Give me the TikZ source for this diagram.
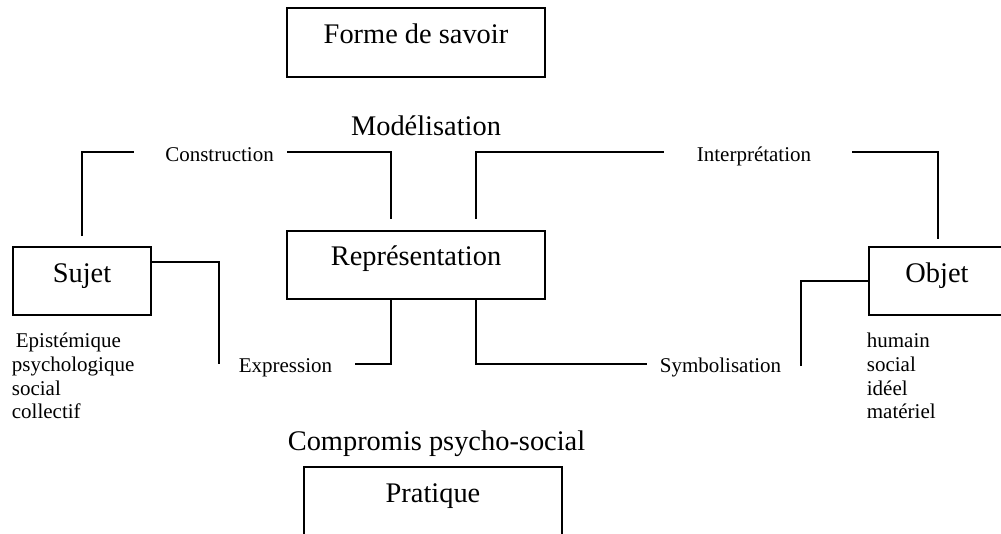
\documentclass[tikz,border=0pt]{standalone}
\usepackage{fontspec}
\setmainfont{Liberation Serif}
\newcommand{\bigtxt}{\fontsize{28.4}{32}\selectfont}
\newcommand{\smalltxt}{\fontsize{21}{24}\selectfont}
\begin{document}
\begin{tikzpicture}[x=1pt,y=-1pt,line width=1.8pt,
  box/.style={draw,rectangle,inner sep=0pt,font=\bigtxt},
  bigtext/.style={inner sep=0pt,anchor=base,font=\bigtxt},
  smalltext/.style={inner sep=0pt,anchor=base,font=\smalltxt},
  listtext/.style={inner sep=0pt,anchor=base west,font=\smalltxt},
  conn/.style={draw,line width=1.8pt}]
\useasboundingbox (0,0) rectangle (1001,533);

% boxes
\node[box,minimum width=258pt,minimum height=69pt,text height=35pt,text depth=34pt] (forme) at (416,42.5) {Forme de savoir};
\node[box,minimum width=258pt,minimum height=68pt,text height=34pt,text depth=34pt] (rep) at (416,265) {Représentation};
\node[box,minimum width=138pt,minimum height=68pt,text height=35pt,text depth=33pt] (sujet) at (82,281) {Sujet};
\node[box,minimum width=136pt,minimum height=68pt,text height=35pt,text depth=33pt] (objet) at (937,281) {Objet};
\node[box,minimum width=258pt,minimum height=100pt,text height=35pt,text depth=65pt] (pratique) at (433,517) {Pratique};

% big labels
\node[bigtext] (model) at (426,135) {Modélisation};
\node[bigtext] (compromis) at (436.5,450) {Compromis psycho-social};

% connector labels
\node[smalltext] (constr) at (219.5,161) {Construction};
\node[smalltext] (interp) at (754,161) {Interprétation};
\node[smalltext] (expr) at (285.5,372) {Expression};
\node[smalltext] (symb) at (720.5,372) {Symbolisation};

% attribute lists
\node[listtext] (s1) at (15,347) {Epistémique};
\node[listtext] (s2) at (11,371) {psychologique};
\node[listtext] (s3) at (11,395) {social};
\node[listtext] (s4) at (11,418) {collectif};
\node[listtext] (o1) at (866,347) {humain};
\node[listtext] (o2) at (866,371) {social};
\node[listtext] (o3) at (866,395) {idéel};
\node[listtext] (o4) at (866,418) {matériel};

% free ends of connectors
\coordinate (cA) at (134,152);
\coordinate (cB) at (287,152);
\coordinate (cC) at (664,152);
\coordinate (cD) at (852,152);
\coordinate (cE) at (219,364);
\coordinate (cF) at (355,364);
\coordinate (cG) at (647,364);
\coordinate (cH) at (801,366);

% connectors
\draw[conn] ([yshift=10pt]sujet.north) |- (cA);
\draw[conn] (cB) -| ([xshift=-25pt,yshift=11pt]rep.north);
\draw[conn] ([xshift=60pt,yshift=11pt]rep.north) |- (cC);
\draw[conn] (cD) -| ([xshift=1pt,yshift=7pt]objet.north);
\draw[conn] ([yshift=19pt]sujet.east) -| (cE);
\draw[conn] (cF) -| ([xshift=-25pt]rep.south);
\draw[conn] ([xshift=60pt]rep.south) |- (cG);
\draw[conn] (cH) |- (objet.west);
\end{tikzpicture}
\end{document}
